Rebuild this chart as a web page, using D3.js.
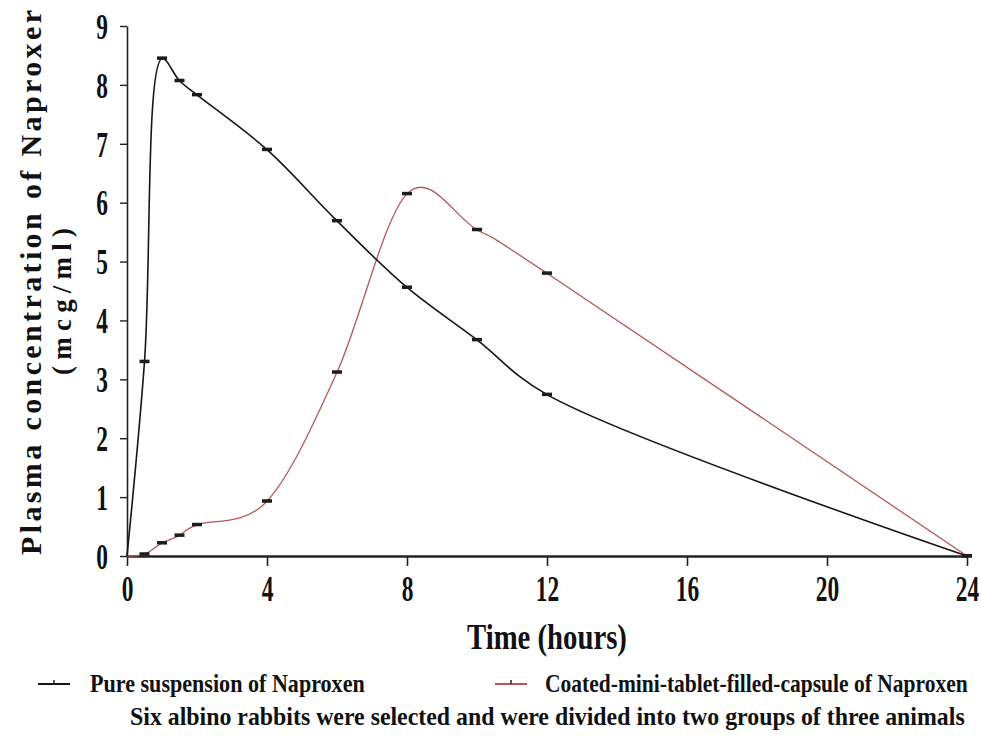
<!DOCTYPE html>
<html lang="en">
<head>
<meta charset="UTF-8">
<title>Plasma concentration of Naproxen</title>
<script src="https://cdnjs.cloudflare.com/ajax/libs/d3/7.8.5/d3.min.js"></script>
<style>
    body { margin: 0; background: #fff; }
    svg { display: block; }
</style>
</head>
<body>
<div id="wrapper"></div>
<script>
// time points (hours) and concentrations (mcg/ml)
const timePure = [0, 0.5, 1, 1.5, 2, 4, 6, 8, 10, 12, 24];
const concPure = [0, 3.3, 8.45, 8.07, 7.83, 6.9, 5.69, 4.56, 3.67, 2.74, 0];

const timeCoated = [0, 0.5, 1, 1.5, 2, 4, 6, 8, 10, 12, 24];
const concCoated = [0, 0.03, 0.22, 0.35, 0.53, 0.93, 3.12, 6.15, 5.54, 4.8, 0];

const xTicks = [0, 4, 8, 12, 16, 20, 24];
const yTicks = [0, 1, 2, 3, 4, 5, 6, 7, 8, 9];

const seriesNames = ["Pure suspension of Naproxen", "Coated-mini-tablet-filled-capsule of Naproxen"];
const seriesColors = ["#161616", "#b4585b"];

const width = 981, height = 753;
const FONT = "'Liberation Serif', 'Times New Roman', serif";

const svg = d3.select("#wrapper").append("svg")
    .attr("width", width)
    .attr("height", height);

const x = d3.scaleLinear().domain([0, 24]).range([127, 967]);
const y = d3.scaleLinear().domain([0, 9]).range([556, 26]);

const numScale = 0.65;

// x axis
const xAxis = svg.append("g")
    .attr("transform", `translate(0,${y(0)})`)
    .call(d3.axisBottom(x).tickValues(xTicks).tickSize(10).tickSizeOuter(0).tickPadding(9));
xAxis.select(".domain").attr("stroke", "#222").attr("stroke-width", 2.6);
xAxis.selectAll(".tick line").attr("stroke", "#222").attr("stroke-width", 1.6);
xAxis.selectAll(".tick text")
    .attr("font-family", FONT)
    .attr("font-weight", "bold")
    .attr("font-size", 36)
    .attr("fill", "#111")
    .attr("transform", `scale(${numScale},1)`);

// y axis
const yAxis = svg.append("g")
    .attr("transform", `translate(${x(0)},0)`)
    .call(d3.axisLeft(y).tickValues(yTicks).tickSize(7).tickSizeOuter(0));
yAxis.select(".domain").attr("stroke", "#222").attr("stroke-width", 1.6);
yAxis.selectAll(".tick line").attr("stroke", "#222").attr("stroke-width", 1.4);
yAxis.selectAll(".tick text")
    .attr("font-family", FONT)
    .attr("font-weight", "bold")
    .attr("font-size", 36)
    .attr("fill", "#111")
    .attr("x", -19 / numScale)
    .attr("dy", "0.34em")
    .attr("transform", `scale(${numScale},1)`);

// lines, smoothed like the spreadsheet original
const pureLine = d3.line()
    .x(d => x(d[0]))
    .y(d => y(d[1]))
    .curve(d3.curveCatmullRom.alpha(0.5));
const coatedLine = d3.line()
    .x(d => x(d[0]))
    .y(d => y(d[1]))
    .curve(d3.curveCardinal.tension(0));

const pureData = d3.zip(timePure, concPure);
const coatedData = d3.zip(timeCoated, concCoated);

svg.append("path")
    .datum(coatedData)
    .attr("fill", "none")
    .attr("stroke", seriesColors[1])
    .attr("stroke-width", 1.3)
    .attr("d", coatedLine);

svg.append("path")
    .datum(pureData)
    .attr("fill", "none")
    .attr("stroke", seriesColors[0])
    .attr("stroke-width", 1.6)
    .attr("d", pureLine);

// small dash markers
[pureData, coatedData].forEach(data => {
    svg.append("g").selectAll("rect")
        .data(data.filter(d => d[0] > 0))
        .join("rect")
        .attr("x", d => x(d[0]) - 5)
        .attr("y", d => y(d[1]) - 2)
        .attr("width", 10)
        .attr("height", 3.5)
        .attr("fill", "#1c1c1c");
});

// condensed text: draw at natural width then squeeze it into the box it takes in the picture
function squeezed(str, size, left, baseline, targetW) {
    const g = svg.append("g");
    const t = g.append("text")
        .attr("font-family", FONT)
        .attr("font-weight", "bold")
        .attr("font-size", size)
        .attr("fill", "#111")
        .text(str);
    const k = targetW / t.node().getComputedTextLength();
    g.attr("transform", `translate(${left},${baseline}) scale(${k},1)`);
    return t;
}

// spaced-out vertical text: keep glyphs, spread the letters to the length seen
function spaced(str, size, left, bottom, targetW) {
    const t = svg.append("text")
        .attr("font-family", FONT)
        .attr("font-weight", "bold")
        .attr("font-size", size)
        .attr("fill", "#111")
        .attr("transform", `translate(${left},${bottom}) rotate(-90)`)
        .text(str);
    const natural = t.node().getComputedTextLength();
    t.attr("letter-spacing", (targetW - natural) / (str.length - 1));
    return t;
}

// axis titles
squeezed("Time (hours)", 36, 467, 649, 160);
spaced("Plasma concentration of Naproxer", 30, 41, 555, 545);
spaced("(mcg/ml)", 27, 71, 375, 147);

// legend
const legendItems = [
    { name: seriesNames[0], color: seriesColors[0], lx: 38, tx: 90, tw: 275 },
    { name: seriesNames[1], color: seriesColors[1], lx: 495, tx: 545, tw: 423 }
];
const legend = svg.append("g").selectAll("g")
    .data(legendItems)
    .join("g");
legend.append("line")
    .attr("x1", d => d.lx).attr("x2", d => d.lx + 32)
    .attr("y1", 684).attr("y2", 684)
    .attr("stroke", d => d.color)
    .attr("stroke-width", 2);
legend.append("line")
    .attr("x1", d => d.lx + 16).attr("x2", d => d.lx + 16)
    .attr("y1", 680).attr("y2", 684)
    .attr("stroke", "#222")
    .attr("stroke-width", 1.5);
legendItems.forEach(d => squeezed(d.name, 25, d.tx, 692, d.tw));

squeezed("Six albino rabbits were selected and were divided into two groups of three animals", 25, 130, 725, 835);
</script>
</body>
</html>
